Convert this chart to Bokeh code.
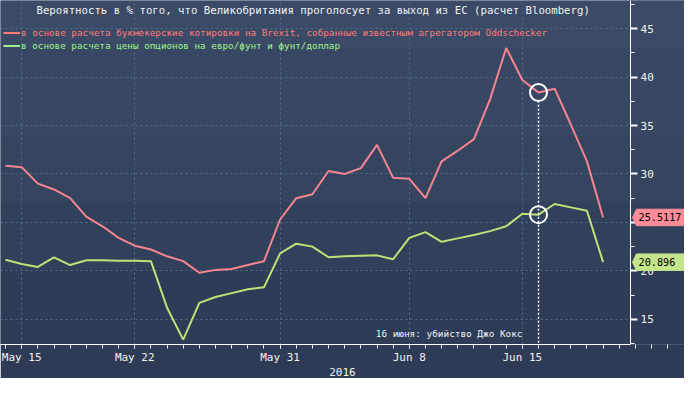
from datetime import datetime, timedelta
from bokeh.plotting import figure
from bokeh.models import (Range1d, FixedTicker, SingleIntervalTicker, Label, Legend,
                          LegendItem, PolyAnnotation, BoxAnnotation)
from bokeh.embed import file_html
from bokeh.resources import INLINE

# ---------------- data ----------------
title_text = "Вероятность в % того, что Великобритания проголосует за выход из ЕС (расчет Bloomberg)"
legend_bookmaker = "в основе расчета букмекерские котировки на Brexit, собранные известным агрегатором Oddschecker"
legend_options = "в основе расчета цены опционов на евро/фунт и фунт/доллар"
first_day = datetime(2016, 5, 14)
bookmaker = [30.85, 30.7, 29.0, 28.4, 27.5, 25.6, 24.6, 23.4, 22.6, 22.2, 21.5, 21.0,
             19.8, 20.1, 20.2, 20.6, 21.0, 25.3,
             27.5, 27.9, 30.3, 30.0, 30.6, 33.0, 29.6, 29.5, 27.5, 31.3, 32.4, 33.6,
             37.7, 43.0, 39.7, 38.4, 38.8, 35.1, 31.3, 25.5117]
options = [21.15, 20.7, 20.4, 21.4, 20.6, 21.1, 21.1, 21.05, 21.05, 21.0, 16.2, 12.9,
           16.7, 17.3, 17.7, 18.1, 18.3, 21.8,
           22.8, 22.5, 21.4, 21.5, 21.55, 21.6, 21.2, 23.4, 24.0, 23.0, 23.35, 23.7,
           24.1, 24.6, 25.9, 25.8, 26.9, 26.55, 26.2, 20.896]
dates = [first_day + timedelta(days=i) for i in range(len(bookmaker))]
tick_dates = [datetime(2016, 5, 15), datetime(2016, 5, 22), datetime(2016, 5, 31),
              datetime(2016, 6, 8), datetime(2016, 6, 15)]
tick_labels = ["May 15", "May 22", "May 31", "Jun 8", "Jun 15"]
year_label = "2016"
event_date = datetime(2016, 6, 16)
event_text = "16 июня: убийство Джо Кокс"
last_labels = ["25.5117", "20.896"]

# ---------------- styles ----------------
FONT = "DejaVu Sans Mono"
PINK = "#f7848f"
GREEN = "#bfe277"
PINK_TXT = "#ff7b74"
GREEN_TXT = "#9df48c"
PINK_TAG = "#ff8c98"
GREEN_TAG = "#c3e68a"
GRID = "#4f6e88"
WHITE = "#f2f2f2"


def ms(d):
    return (d - datetime(1970, 1, 1)).total_seconds() * 1000.0


DAY = 86400000.0
base = ms(tick_dates[0])
x_start = base - 1.313 * DAY
x_axis = base + 37.70 * DAY
x_end = base + 41.04 * DAY
y0, y1 = 12.4, 47.9

p = figure(width=684, height=378, x_axis_type="datetime", y_axis_location="right",
           x_range=Range1d(x_start, x_end), y_range=Range1d(y0, y1),
           output_backend="svg", toolbar_location=None)
p.min_border = 0
p.min_border_left = 0
p.min_border_top = 0
p.min_border_right = 0
p.min_border_bottom = 0
p.outline_line_color = None
p.background_fill_color = "#2e3c58"
p.border_fill_color = "#2d3b57"

# background gradient bands (also re-covering the area right of the axis)
band_edges = [47.9, 43.0, 33.9, 27.1, 20.2, 12.4]
band_cols = ["#3b4a67", "#384764", "#35445f", "#31405b", "#2e3c57"]
for i, c in enumerate(band_cols):
    p.add_layout(BoxAnnotation(top=band_edges[i], bottom=band_edges[i + 1], fill_color=c,
                               fill_alpha=1, line_alpha=0, level="image"))
for i, c in enumerate(band_cols):
    p.add_layout(BoxAnnotation(left=x_axis, top=band_edges[i], bottom=band_edges[i + 1],
                               fill_color=c, fill_alpha=1, line_alpha=0, level="underlay"))

# axes
xticks = [ms(d) for d in tick_dates]
minor = [ms(first_day) + i * DAY for i in range(-2, 42)]
p.xaxis.ticker = FixedTicker(ticks=xticks, minor_ticks=minor)
p.xaxis.bounds = (x_start, x_axis)
p.xaxis.major_label_overrides = {t: l for t, l in zip(xticks, tick_labels)}
p.xaxis.axis_line_color = "white"
p.xaxis.major_tick_line_color = "white"
p.xaxis.minor_tick_line_color = "white"
p.xaxis.major_tick_in = 0
p.xaxis.major_tick_out = 4
p.xaxis.minor_tick_in = 0
p.xaxis.minor_tick_out = 4
p.xaxis.major_label_text_color = WHITE
p.xaxis.major_label_text_font = FONT
p.xaxis.major_label_text_font_size = "11px"
p.xaxis.major_label_standoff = 2
p.xaxis.axis_label = year_label
p.xaxis.axis_label_text_font = FONT
p.xaxis.axis_label_text_font_size = "11px"
p.xaxis.axis_label_text_font_style = "normal"
p.xaxis.axis_label_text_color = WHITE
p.xaxis.axis_label_standoff = 1

p.yaxis.fixed_location = x_axis
p.yaxis.ticker = SingleIntervalTicker(interval=5, num_minor_ticks=2)
p.yaxis.axis_line_color = "white"
p.yaxis.major_tick_line_color = "white"
p.yaxis.major_tick_line_width = 2
p.yaxis.minor_tick_line_color = "white"
p.yaxis.major_tick_in = 0
p.yaxis.major_tick_out = 7
p.yaxis.minor_tick_in = 0
p.yaxis.minor_tick_out = 4
p.yaxis.major_label_text_color = WHITE
p.yaxis.major_label_text_font = FONT
p.yaxis.major_label_text_font_size = "11px"
p.yaxis.major_label_standoff = 3

p.xgrid.ticker = FixedTicker(ticks=xticks)
for g in (p.xgrid, p.ygrid):
    g.grid_line_color = GRID
    g.grid_line_dash = "2 3"
    g.grid_line_width = 1

# lines
p.line(dates, bookmaker, line_color=PINK, line_width=2)
p.line(dates, options, line_color=GREEN, line_width=2)

# legend (own colours; single-point lines draw nothing in the plot)
lg_p = p.line(dates[:1], bookmaker[:1], line_color=PINK_TXT, line_width=2)
lg_g = p.line(dates[:1], options[:1], line_color=GREEN_TXT, line_width=2)
for r, txt, col, ly in [(lg_p, legend_bookmaker, PINK_TXT, 305.5),
                        (lg_g, legend_options, GREEN_TXT, 292.5)]:
    lg = Legend(items=[LegendItem(label=txt, renderers=[r])], location=(3, ly),
                label_text_font=FONT, label_text_font_size="9.3px", label_text_color=col,
                background_fill_alpha=0, border_line_alpha=0, padding=0, margin=0,
                spacing=0, glyph_width=17, glyph_height=13, label_height=13,
                label_standoff=1)
    p.add_layout(lg)

# event marker
ei = dates.index(event_date)
p.segment(x0=[event_date], y0=[bookmaker[ei] - 0.85], x1=[event_date], y1=[y0],
          line_color="white", line_dash="2 2", line_width=1.5)
p.scatter([event_date, event_date], [bookmaker[ei], options[ei]], size=17,
          fill_alpha=0, line_color="white", line_width=2)
p.add_layout(Label(x=ms(event_date), y=13.57, x_offset=-16, text=event_text,
                   text_align="right", text_baseline="middle", text_color=WHITE,
                   text_font=FONT, text_font_size="9.4px"))

# title
p.add_layout(Label(x=36, y=334, x_units="screen", y_units="screen", text=title_text,
                   text_baseline="middle", text_align="left", text_color=WHITE,
                   text_font=FONT, text_font_size="10.7px"))

# last value tags
for v, txt, col in [(bookmaker[-1], last_labels[0], PINK_TAG), (options[-1], last_labels[1], GREEN_TAG)]:
    p.add_layout(PolyAnnotation(xs=[632, 636, 690, 690, 636], ys=[v, v + 0.85, v + 0.85, v - 0.85, v - 0.85],
                                xs_units="screen", ys_units="data", fill_color=col, fill_alpha=1,
                                line_color=col, line_alpha=1, level="overlay"))
    p.add_layout(Label(x=638, y=v, x_units="screen", text=txt, text_baseline="middle",
                       text_align="left", text_color="black", text_font=FONT,
                       text_font_size="10.2px", level="overlay"))

open("out.html", "w").write(file_html(p, INLINE))
